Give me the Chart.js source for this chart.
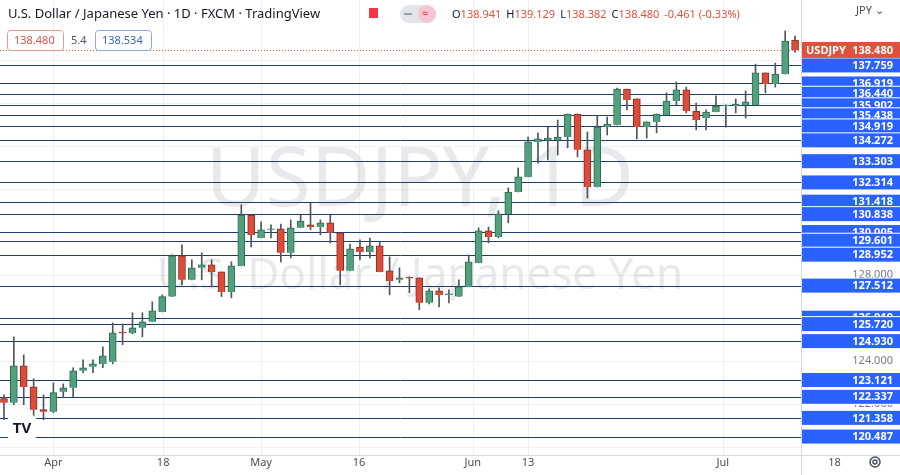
<!DOCTYPE html>
<html>
<head>
<meta charset="utf-8">
<script src="https://cdn.jsdelivr.net/npm/chart.js@4.4.1/dist/chart.umd.min.js"></script>
<style>
  html, body { margin: 0; padding: 0; background: #fff; overflow: hidden; }
  #chart { display: block; }
</style>
</head>
<body>
<canvas id="chart" width="900" height="475"></canvas>
<script>
// --- DATA ---
// daily candles, Mar 25 -> Jul 15 2022 (index = trading day)
const opens = [122.25,122.06,123.78,122.80,121.74,121.64,122.57,122.76,123.55,123.74,123.87,123.97,125.32,125.30,125.55,125.83,126.29,127.00,128.90,127.78,
  128.34,128.48,128.15,127.22,128.43,130.80,129.73,130.11,130.15,129.04,130.20,130.34,130.24,130.43,129.97,128.20,129.31,129.08,129.36,128.20,
  127.78,127.87,127.87,126.71,127.27,127.08,127.00,127.45,128.57,130.06,129.78,130.85,131.87,132.57,134.20,134.29,134.29,134.43,135.50,133.83,
  132.10,134.89,134.99,136.66,136.20,134.89,135.13,135.45,136.10,136.62,135.64,135.31,135.59,135.87,135.87,135.92,135.92,137.41,136.89,137.36,138.94];
const highs = [122.43,125.13,124.29,123.18,122.43,122.99,122.94,123.69,124.06,124.06,124.66,125.78,125.73,126.25,126.25,126.76,127.08,128.94,129.41,128.71,
  129.04,128.71,128.15,128.62,131.27,130.80,130.48,130.34,130.38,130.57,130.80,131.36,130.57,130.80,129.97,129.45,129.64,129.73,129.55,128.85,
  128.34,127.92,127.87,127.36,127.41,127.32,127.78,128.94,130.20,130.24,130.99,132.06,132.99,134.43,134.62,134.89,135.22,135.50,135.50,134.66,
  135.41,135.36,136.71,136.66,136.20,135.13,135.50,136.48,136.99,136.75,136.01,135.69,136.34,135.92,136.20,136.57,137.82,137.41,137.87,139.36,139.13];
const lows = [121.27,121.97,121.97,121.27,121.27,121.60,122.29,122.34,123.46,123.46,123.69,123.87,124.76,125.27,125.13,125.83,126.29,127.00,127.55,127.78,
  127.78,127.45,127.00,126.94,128.43,129.31,129.73,129.73,128.62,128.80,130.20,130.11,129.87,129.50,127.55,128.20,128.71,128.80,128.15,127.08,
  127.64,127.18,126.39,126.66,126.52,126.71,127.00,127.45,128.57,129.50,129.73,130.43,131.87,132.57,133.22,133.36,133.59,133.92,133.50,131.59,
  132.10,134.52,134.99,135.69,134.34,134.38,134.62,135.45,135.92,135.55,134.76,134.76,135.59,134.89,135.55,135.31,135.92,136.48,136.75,137.36,138.38];
const closes = [122.06,123.78,122.80,121.74,121.64,122.53,122.76,123.55,123.69,123.87,124.25,125.32,125.30,125.55,125.83,126.34,127.00,128.90,127.78,128.34,
  128.48,128.15,127.22,128.43,130.80,129.87,130.11,130.13,129.04,130.20,130.52,130.24,130.43,129.97,128.20,129.22,129.08,129.36,128.15,127.73,
  127.87,127.85,126.71,127.27,127.08,127.10,127.45,128.62,130.06,129.78,130.85,131.87,132.57,134.20,134.34,134.38,134.43,135.50,133.83,132.10,
  134.89,135.03,136.66,136.15,134.89,135.13,135.50,136.10,136.62,135.64,135.22,135.59,135.87,135.89,135.96,136.06,137.41,136.89,137.36,138.89,138.48];

// drawn support / resistance levels
const levels = [137.759,136.919,136.440,135.902,135.438,134.919,134.272,133.303,132.314,131.418,130.838,130.005,
  129.601,128.952,127.512,126.019,125.720,124.930,123.121,122.337,121.358,120.487];
const axisPrices = [128, 124, 122];
const lastPrice = 138.480;

// date labels and where they sit (in trading-day index)
const dateLabels = ['Apr', '18', 'May', '16', 'Jun', '13', 'Jul', '18'];
const dateIdx = [5, 16.1, 26, 35.9, 47.4, 53, 72.7, 84];

const UP = '#53a07f', UP_B = '#2f6a52', DN = '#dc4c3a', DN_B = '#8c2d22';

const wickData = lows.map((l, i) => ({ x: i, y: [l, highs[i]] }));
const bodyData = opens.map((o, i) => ({ x: i, y: [o, closes[i]] }));
const isUp = i => closes[i] >= opens[i];

const overlay = {
  id: 'overlay',
  beforeDatasetsDraw(chart) {
    const { ctx, chartArea: a, scales: { x, y } } = chart;
    ctx.save();
    // faint grid
    ctx.strokeStyle = '#eef0f3'; ctx.lineWidth = 1;
    dateIdx.forEach(d => {
      const px = Math.round(x.getPixelForValue(d)) + 0.5;
      if (px < a.right) { ctx.beginPath(); ctx.moveTo(px, a.top - 25); ctx.lineTo(px, a.bottom); ctx.stroke(); }
    });
    for (let p = 120; p <= 138; p += 2) {
      const py = Math.round(y.getPixelForValue(p)) + 0.5;
      ctx.beginPath(); ctx.moveTo(0, py); ctx.lineTo(a.right, py); ctx.stroke();
    }
    // watermark
    ctx.fillStyle = 'rgba(140,146,160,0.2)';
    ctx.textAlign = 'center'; ctx.textBaseline = 'middle';
    ctx.font = '82px "Noto Sans", sans-serif';
    ctx.fillText('USDJPY, 1D', 420, 183);
    ctx.font = '44px "Noto Sans", sans-serif';
    ctx.fillText('U.S. Dollar / Japanese Yen', 420, 276);
    // levels
    ctx.strokeStyle = '#1f3f6a'; ctx.lineWidth = 1;
    levels.forEach(v => {
      const py = Math.round(y.getPixelForValue(v)) + 0.5;
      ctx.beginPath(); ctx.moveTo(0, py); ctx.lineTo(a.right, py); ctx.stroke();
    });
    // last price dotted
    const lp = Math.round(y.getPixelForValue(lastPrice)) + 0.5;
    ctx.strokeStyle = '#e0634f'; ctx.setLineDash([1, 2]);
    ctx.beginPath(); ctx.moveTo(0, lp); ctx.lineTo(a.right, lp); ctx.stroke();
    ctx.setLineDash([]);
    ctx.restore();
  },
  afterDraw(chart) {
    const { ctx, chartArea: a, scales: { x, y } } = chart;
    ctx.save();
    // axis separators
    ctx.strokeStyle = '#d6d8de'; ctx.lineWidth = 1;
    ctx.beginPath(); ctx.moveTo(a.right + 0.5, 0); ctx.lineTo(a.right + 0.5, 475); ctx.stroke();
    ctx.beginPath(); ctx.moveTo(0, a.bottom + 0.5); ctx.lineTo(900, a.bottom + 0.5); ctx.stroke();
    // grey axis prices
    ctx.font = '11px "Noto Sans", sans-serif'; ctx.textAlign = 'right'; ctx.textBaseline = 'middle';
    ctx.fillStyle = '#777b86';
    axisPrices.forEach(p => ctx.fillText(p.toFixed(3), 893, y.getPixelForValue(p)));
    // blue level labels
    ctx.font = 'bold 11px "Noto Sans", sans-serif';
    levels.forEach(v => {
      const py = y.getPixelForValue(v);
      ctx.fillStyle = '#fff'; ctx.fillRect(a.right + 1, py - 8, 99, 16);
      ctx.fillStyle = '#2962ff'; ctx.fillRect(a.right + 1, py - 7, 99, 14);
      ctx.fillStyle = '#fff'; ctx.fillText(v.toFixed(3), 893, py + 0.5);
    });
    // last price label
    const lp = y.getPixelForValue(lastPrice);
    ctx.fillStyle = '#e0503d'; ctx.fillRect(a.right + 1, lp - 8, 99, 16);
    ctx.fillStyle = '#fff'; ctx.fillText(lastPrice.toFixed(3), 893, lp + 0.5);
    ctx.textAlign = 'left'; ctx.fillText('USDJPY', 806, lp + 0.5);
    // date labels
    ctx.font = '11px "Noto Sans", sans-serif'; ctx.textAlign = 'center';
    ctx.fillStyle = '#4a4e59';
    dateLabels.forEach((t, i) => ctx.fillText(t, x.getPixelForValue(dateIdx[i]), 463));
    // header
    ctx.textAlign = 'left';
    ctx.font = '13px "Noto Sans", sans-serif'; ctx.fillStyle = '#131722';
    ctx.fillText('U.S. Dollar / Japanese Yen · 1D · FXCM · TradingView', 8, 14);
    ctx.fillStyle = '#f23645'; ctx.fillRect(369, 8, 9, 10);
    ctx.fillStyle = '#e3e5ea'; ctx.beginPath(); ctx.roundRect(400, 5, 36, 18, 9); ctx.fill();
    ctx.fillStyle = '#f7c5d3'; ctx.beginPath(); ctx.roundRect(418, 5, 18, 18, 9); ctx.fill();
    ctx.fillStyle = '#9aa0ab'; ctx.fillRect(404, 13, 8, 2);
    ctx.fillStyle = '#e0304d'; ctx.font = '11px "Noto Sans", sans-serif'; ctx.fillText('≈', 422, 14);
    ctx.font = '11px "Noto Sans", sans-serif';
    let hx = 452;
    [['O', '138.941'], ['H', '139.129'], ['L', '138.382'], ['C', '138.480']].forEach(([k, v]) => {
      ctx.fillStyle = '#131722'; ctx.fillText(k, hx, 15); hx += ctx.measureText(k).width;
      ctx.fillStyle = '#e0503d'; ctx.fillText(v, hx, 15); hx += ctx.measureText(v).width + 5;
    });
    ctx.fillStyle = '#e0503d'; ctx.fillText('-0.461 (-0.33%)', hx, 15);
    // bid/ask boxes
    ctx.strokeStyle = '#e09a94'; ctx.beginPath(); ctx.roundRect(7.5, 30.5, 56, 20, 3); ctx.stroke();
    ctx.fillStyle = '#d9534a'; ctx.fillText('138.480', 14, 41);
    ctx.fillStyle = '#555a66'; ctx.fillText('5.4', 71, 41);
    ctx.strokeStyle = '#8fa8d8'; ctx.beginPath(); ctx.roundRect(95.5, 30.5, 56, 20, 3); ctx.stroke();
    ctx.fillStyle = '#3a64b0'; ctx.fillText('138.534', 102, 41);
    // currency + gear
    ctx.fillStyle = '#4a4e59'; ctx.fillText('JPY ⌄', 856, 11);
    ctx.strokeStyle = '#4a4e59'; ctx.lineWidth = 1.5;
    ctx.beginPath(); ctx.arc(875, 462, 5, 0, Math.PI * 2); ctx.stroke();
    ctx.beginPath(); ctx.arc(875, 462, 2, 0, Math.PI * 2); ctx.stroke();
    // logo
    ctx.fillStyle = '#fff'; ctx.beginPath(); ctx.arc(22, 428, 17, 0, Math.PI * 2); ctx.fill();
    ctx.fillStyle = '#131722'; ctx.font = 'bold 15px "Noto Sans", sans-serif'; ctx.textAlign = 'center';
    ctx.fillText('TV', 22, 429);
    ctx.restore();
  }
};

new Chart(document.getElementById('chart'), {
  type: 'bar',
  data: {
    datasets: [
      { data: wickData, backgroundColor: '#50545e', barThickness: 1, grouped: false, order: 2 },
      {
        data: bodyData, barThickness: 7, grouped: false, minBarLength: 1, borderWidth: 1, order: 1,
        backgroundColor: c => isUp(c.dataIndex) ? UP : DN,
        borderColor: c => isUp(c.dataIndex) ? UP_B : DN_B
      }
    ]
  },
  options: {
    responsive: false, animation: false, devicePixelRatio: 1,
    layout: { padding: { left: 0, right: 99, top: 25, bottom: 20 } },
    plugins: { legend: { display: false }, tooltip: { enabled: false } },
    scales: {
      x: { type: 'linear', min: -0.4, max: 80.6, offset: false, display: false },
      y: { min: 119.63, max: 139.64, display: false }
    }
  },
  plugins: [overlay]
});
</script>
</body>
</html>
